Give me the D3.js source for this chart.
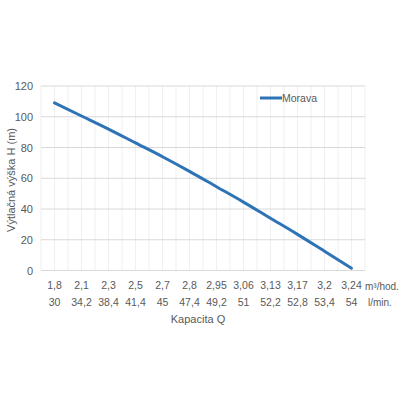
<!DOCTYPE html>
<html>
<head>
<meta charset="utf-8">
<script src="https://cdn.jsdelivr.net/npm/d3@7"></script>
<style>
  body { margin: 0; background: #fff; }
  text { font-family: "Liberation Sans", Arial, sans-serif; fill: #595959; }
</style>
</head>
<body>
<svg id="canvas" width="400" height="400"></svg>
<script>
// donnees
let prutokHod = ['1,8', '2,1', '2,3', '2,5', '2,7', '2,8', '2,95', '3,06', '3,13', '3,17', '3,2', '3,24']
let prutokMin = ['30', '34,2', '38,4', '41,4', '45', '47,4', '49,2', '51', '52,2', '52,8', '53,4', '54']
let vyska = [109, 100.5, 92, 83, 74, 64.5, 54.5, 44.5, 34, 23.5, 12.5, 1.5]
let yTicks = [0, 20, 40, 60, 80, 100, 120]

let canvas = d3.select('#canvas')

let gauche = 41, droite = 365, haut = 86, bas = 270.5

let x = d3.scaleBand().domain(prutokHod).range([gauche, droite])
let y = d3.scaleLinear().domain([0, 120]).range([bas, haut])

// petites lignes verticales (bords et milieux des categories)
let minor = []
prutokHod.forEach(d => { minor.push(x(d)); minor.push(x(d) + x.bandwidth() / 2) })
minor.push(droite)
canvas.append('g').selectAll('line')
  .data(minor).enter().append('line')
  .attr('x1', d => d).attr('x2', d => d)
  .attr('y1', haut).attr('y2', bas)
  .attr('stroke', '#efefef').attr('stroke-width', 1)

// lignes horizontales
canvas.append('g').selectAll('line')
  .data(yTicks).enter().append('line')
  .attr('x1', gauche).attr('x2', droite)
  .attr('y1', d => y(d)).attr('y2', d => y(d))
  .attr('stroke', '#d9d9d9').attr('stroke-width', 1)

// axe Y
let axeY = canvas.append('g')
  .attr('transform', `translate(${gauche},0)`)
  .call(d3.axisLeft(y).tickValues(yTicks).tickSize(0).tickPadding(8))
axeY.select('.domain').remove()
axeY.selectAll('text').style('font-size', '11px').attr('fill', '#595959')
  .style('font-family', '"Liberation Sans", Arial, sans-serif')

// axe X : deux lignes d'etiquettes
let axeX = canvas.append('g')
  .attr('transform', `translate(0,${bas})`)
  .call(d3.axisBottom(x).tickSize(0).tickPadding(11))
axeX.select('.domain').remove()
axeX.selectAll('text').style('font-size', '10.5px').attr('fill', '#595959')
  .style('font-family', '"Liberation Sans", Arial, sans-serif')

canvas.append('g').selectAll('text')
  .data(prutokMin).enter().append('text')
  .attr('x', (d, i) => x(prutokHod[i]) + x.bandwidth() / 2)
  .attr('y', 306)
  .attr('text-anchor', 'middle')
  .style('font-size', '10.5px')
  .text(d => d)

canvas.append('text').attr('x', 365).attr('y', 290)
  .style('font-size', '10px').text('m³/hod.')
canvas.append('text').attr('x', 368).attr('y', 306)
  .style('font-size', '10px').text('l/min.')

// titres des axes
canvas.append('text').attr('x', 198).attr('y', 323)
  .attr('text-anchor', 'middle').style('font-size', '11px').text('Kapacita Q')
canvas.append('text')
  .attr('transform', 'translate(15,180) rotate(-90)')
  .attr('text-anchor', 'middle').style('font-size', '11px').text('Výtlačná výška H (m)')

// courbe
let ligne = d3.line()
  .x((d, i) => x(prutokHod[i]) + x.bandwidth() / 2)
  .y(d => y(d))
  .curve(d3.curveMonotoneX)

canvas.append('path')
  .datum(vyska)
  .attr('d', ligne)
  .attr('fill', 'none')
  .attr('stroke', '#2e73b5')
  .attr('stroke-width', 3)
  .attr('stroke-linecap', 'round')

// legende
canvas.append('line')
  .attr('x1', 260).attr('x2', 282).attr('y1', 98).attr('y2', 98)
  .attr('stroke', '#2e73b5').attr('stroke-width', 3)
canvas.append('text').attr('x', 282).attr('y', 102)
  .style('font-size', '10.5px').text('Morava')
</script>
</body>
</html>
